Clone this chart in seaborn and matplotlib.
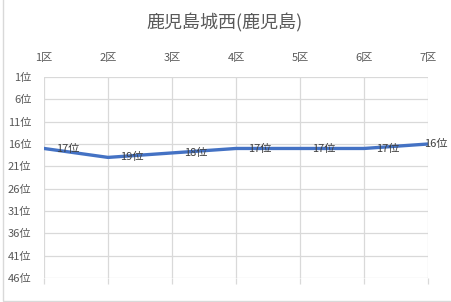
import matplotlib
matplotlib.use("Agg")
import matplotlib.pyplot as plt
import seaborn as sns
import pandas as pd
from matplotlib.patches import Rectangle

categories = ["1区", "2区", "3区", "4区", "5区", "6区", "7区"]
ranks = [17, 19, 18, 17, 17, 17, 16]
y_ticks = [1, 6, 11, 16, 21, 26, 31, 36, 41, 46]
y_labels = [f"{v}位" for v in y_ticks]
title = "鹿児島城西(鹿児島)"

sns.set_theme(style="white")
plt.rcParams['font.family'] = ['Noto Sans CJK JP', 'DejaVu Sans']

W, H = 451, 302
fig = plt.figure(figsize=(W / 100, H / 100), dpi=100)
ax = fig.add_axes([44 / W, 1 - 278 / H, (428 - 44) / W, (278 - 77) / H])

df = pd.DataFrame({"pos": range(len(categories)), "rank": ranks})
sns.lineplot(data=df, x="pos", y="rank", ax=ax, color="#4472C4", linewidth=2.4)

ax.set_xlim(0, len(categories) - 1)
ax.set_ylim(46, 1)
ax.set_xticks(range(len(categories)))
ax.set_xticklabels(categories)
ax.set_yticks(y_ticks)
ax.set_yticklabels(y_labels)
ax.set_xlabel("")
ax.set_ylabel("")

ax.grid(True, color="#d9d9d9", linewidth=0.9)
ax.set_axisbelow(True)
for s in ax.spines.values():
    s.set_visible(False)

ax.tick_params(axis="x", which="both", bottom=True, top=False,
               labelbottom=False, labeltop=True, length=4, width=0.9,
               color="#d9d9d9", labelsize=8, labelcolor="#595959", pad=6)
ax.tick_params(axis="y", left=False, labelsize=8, labelcolor="#595959", pad=3)

for i, r in enumerate(ranks):
    dx = 8.6 if i < len(ranks) - 1 else -3
    ax.annotate(f"{r}位", (i, r), xytext=(dx, 0), textcoords="offset points",
                ha="left", va="center", fontsize=8, color="#404040",
                annotation_clip=False)

fig.text(225 / W, 1 - 23 / H, title, ha="center", va="center",
         fontsize=13, color="#595959")

fig.patches.append(Rectangle((3 / W, 1.5 / H), 1.0, 1.0, transform=fig.transFigure,
                             fill=False, edgecolor="#d9d9d9", linewidth=1.0))

fig.savefig("out.png", dpi=100)
